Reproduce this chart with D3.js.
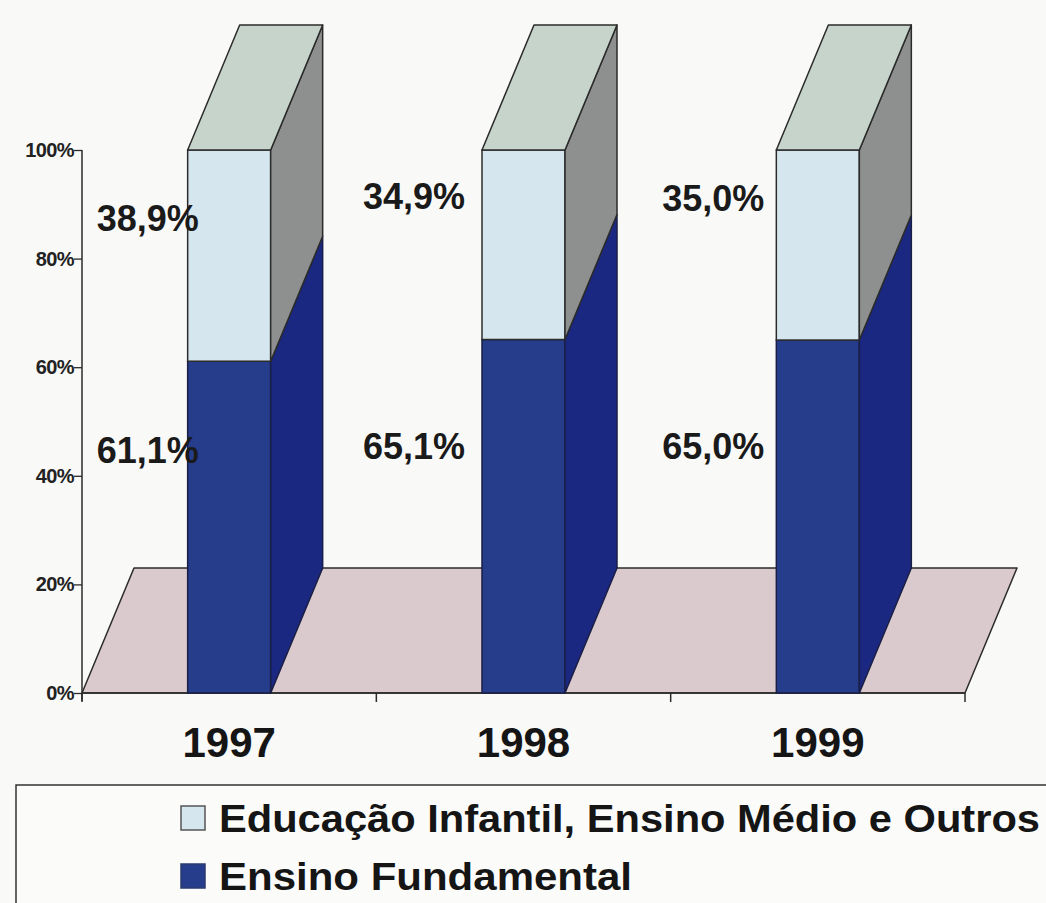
<!DOCTYPE html>
<html>
<head>
<meta charset="utf-8">
<script src="https://cdn.jsdelivr.net/npm/d3@7/dist/d3.min.js"></script>
<style>
  html, body { margin: 0; padding: 0; background: #f9f9f7; }
  svg { display: block; }
  text { font-family: "Liberation Sans", Arial, Helvetica, sans-serif; }
</style>
</head>
<body>
<svg id="chart" width="1046" height="903"></svg>
<script>
// ---- data ----
const years = ["1997", "1998", "1999"];
const fundamental = [61.1, 65.1, 65.0];          // Ensino Fundamental (%)
const outros = [38.9, 34.9, 35.0];               // Educação Infantil, Ensino Médio e Outros (%)
const yTickValues = [0, 20, 40, 60, 80, 100];
const seriesNames = ["Educação Infantil, Ensino Médio e Outros", "Ensino Fundamental"];

// ---- layout ----
const W = 1046, H = 903;
const plot = { left: 82, right: 965, top: 150, bottom: 693 };
const depth = { dx: 52, dy: -125 };
const barFrac = 0.282;
const labelNudge = [ { dx: 20, dyTop: 7, dyBot: -5 }, { dx: -8, dyTop: -4, dyBot: 2 }, { dx: -3, dyTop: -2, dyBot: 2 } ];

const colors = {
  floor: "#dacacd",
  lightFront: "#d5e6ee",
  lightSide: "#8e8f8f",
  top: "#c6d4cc",
  blueFront: "#263d8c",
  blueSide: "#1b2882",
  edge: "#2b2b2b"
};

const svg = d3.select("#chart");

const x = d3.scaleBand().domain(years).range([plot.left, plot.right]).padding(0);
const y = d3.scaleLinear().domain([0, 100]).range([plot.bottom, plot.top]);
const barW = x.bandwidth() * barFrac;

// floor
const floorPts = [
  [plot.left, y(0)], [plot.right, y(0)],
  [plot.right + depth.dx, y(0) + depth.dy], [plot.left + depth.dx, y(0) + depth.dy]
];
svg.append("polygon")
  .attr("points", floorPts.map(p => p.join(",")).join(" "))
  .attr("fill", colors.floor)
  .attr("stroke", colors.edge)
  .attr("stroke-width", 1.5)
  .attr("stroke-linejoin", "round");

// y axis
const yAxis = d3.axisLeft(y).tickValues(yTickValues).tickSize(8).tickPadding(0)
  .tickFormat(d => d + "%");
const gy = svg.append("g").attr("transform", `translate(${plot.left},0)`).call(yAxis);
gy.select(".domain").attr("d", `M0,${plot.top}V${plot.bottom + 8}`).attr("stroke", colors.edge).attr("stroke-width", 1.5);
gy.selectAll(".tick line").attr("stroke", colors.edge).attr("stroke-width", 1.3);
gy.selectAll(".tick text")
  .attr("fill", "#222")
  .attr("font-size", 20)
  .attr("font-weight", "bold")
  .attr("letter-spacing", "-0.6");

// x axis (ticks at category boundaries)
const boundaries = [plot.left].concat(years.map(d => x(d) + x.bandwidth()));
svg.append("line")
  .attr("x1", plot.left).attr("x2", plot.right)
  .attr("y1", y(0)).attr("y2", y(0))
  .attr("stroke", colors.edge).attr("stroke-width", 1.5);
svg.selectAll(".xtick").data(boundaries).enter().append("line")
  .attr("class", "xtick")
  .attr("x1", d => d).attr("x2", d => d)
  .attr("y1", y(0)).attr("y2", y(0) + 9)
  .attr("stroke", colors.edge).attr("stroke-width", 1.5);

svg.selectAll(".year").data(years).enter().append("text")
  .attr("class", "year")
  .attr("x", d => x(d) + x.bandwidth() / 2)
  .attr("y", y(0) + 64)
  .attr("text-anchor", "middle")
  .attr("font-size", 42)
  .attr("font-weight", "bold")
  .attr("fill", "#151515")
  .text(d => d);

// bars
function poly(g, pts, fill, stroke) {
  g.append("polygon")
    .attr("points", pts.map(p => p.join(",")).join(" "))
    .attr("fill", fill)
    .attr("stroke", stroke)
    .attr("stroke-width", 1.5)
    .attr("stroke-linejoin", "round");
}

years.forEach((yr, i) => {
  const g = svg.append("g");
  const x0 = x(yr) + (x.bandwidth() - barW) / 2;
  const x1 = x0 + barW;
  const segs = [
    { v0: 0, v1: fundamental[i], front: colors.blueFront, side: colors.blueSide, stroke: "#1a1f45" },
    { v0: fundamental[i], v1: fundamental[i] + outros[i], front: colors.lightFront, side: colors.lightSide, stroke: colors.edge }
  ];
  segs.forEach(s => {
    const ya = y(s.v0), yb = y(s.v1);
    g.append("rect").attr("x", x0).attr("y", yb).attr("width", barW).attr("height", ya - yb)
      .attr("fill", s.front).attr("stroke", s.stroke).attr("stroke-width", 1.5);
    poly(g, [[x1, ya], [x1 + depth.dx, ya + depth.dy], [x1 + depth.dx, yb + depth.dy], [x1, yb]], s.side, s.stroke);
  });
  const yt = y(fundamental[i] + outros[i]);
  poly(g, [[x0, yt], [x0 + depth.dx, yt + depth.dy], [x1 + depth.dx, yt + depth.dy], [x1, yt]], colors.top, colors.edge);
});

// value labels
const labelFont = 36;
years.forEach((yr, i) => {
  const x0 = x(yr) + (x.bandwidth() - barW) / 2;
  const cx = x0 - 60 + labelNudge[i].dx;
  const fmt = v => v.toFixed(1).replace(".", ",") + "%";
  const topMid = y(fundamental[i] + outros[i] / 2) - 45 + labelNudge[i].dyTop;
  const botMid = y(fundamental[i] / 2) - 72 + labelNudge[i].dyBot;
  [[outros[i], topMid], [fundamental[i], botMid]].forEach(([v, cy]) => {
    svg.append("text")
      .attr("x", cx).attr("y", cy + labelFont * 0.36)
      .attr("text-anchor", "middle")
      .attr("font-size", labelFont)
      .attr("font-weight", "bold")
      .attr("fill", "#1a1a1a")
      .text(fmt(v));
  });
});

// legend
const lg = svg.append("g");
lg.append("rect").attr("x", 16).attr("y", 785).attr("width", 1100).attr("height", 200)
  .attr("fill", "#fbfbfa").attr("stroke", "#333").attr("stroke-width", 1.5);
const legendColors = [colors.lightFront, colors.blueFront];
seriesNames.forEach((name, i) => {
  const cy = 818 + i * 58;
  lg.append("rect").attr("x", 181).attr("y", cy - 12).attr("width", 24).attr("height", 24)
    .attr("fill", legendColors[i]).attr("stroke", i === 0 ? "#555" : "#2a3a70").attr("stroke-width", 1.5);
  const t = lg.append("text").attr("x", 219).attr("y", cy + 14)
    .attr("font-size", 38).attr("font-weight", "bold").attr("fill", "#151515")
    .text(name);
  t.attr("textLength", i === 0 ? 821 : 413).attr("lengthAdjust", "spacingAndGlyphs");
});
</script>
</body>
</html>
